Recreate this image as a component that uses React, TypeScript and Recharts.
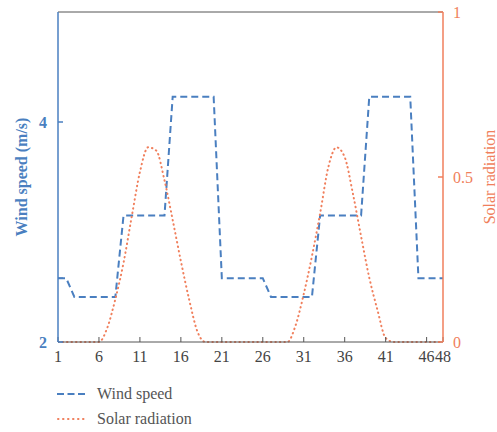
import React from 'react';
import { LineChart, Line, XAxis, YAxis } from 'recharts';

// hours 1..48
const hours = [
  1, 2, 3, 4, 5, 6, 7, 8, 9, 10, 11, 12, 13, 14, 15, 16, 17, 18, 19, 20, 21, 22, 23, 24,
  25, 26, 27, 28, 29, 30, 31, 32, 33, 34, 35, 36, 37, 38, 39, 40, 41, 42, 43, 44, 45, 46, 47, 48,
];

// wind speed (m/s)
const windSpeed = [
  2.58, 2.58, 2.41, 2.41, 2.41, 2.41, 2.41, 2.41, 3.15, 3.15, 3.15, 3.15, 3.15, 3.15, 4.23, 4.23,
  4.23, 4.23, 4.23, 4.23, 2.58, 2.58, 2.58, 2.58, 2.58, 2.58, 2.41, 2.41, 2.41, 2.41, 2.41, 2.41,
  3.15, 3.15, 3.15, 3.15, 3.15, 3.15, 4.23, 4.23, 4.23, 4.23, 4.23, 4.23, 2.58, 2.58, 2.58, 2.58,
];

// solar radiation (normalised)
const solarRadiation = [
  0, 0, 0, 0, 0, 0, 0.042, 0.13, 0.24, 0.38, 0.515, 0.59, 0.58, 0.49, 0.37, 0.245,
  0.13, 0.033, 0, 0, 0, 0, 0, 0, 0, 0, 0, 0, 0, 0.05, 0.145, 0.26,
  0.39, 0.53, 0.59, 0.56, 0.45, 0.32, 0.195, 0.097, 0.012, 0, 0, 0, 0, 0, 0, 0,
];

const xTicks = [1, 6, 11, 16, 21, 26, 31, 36, 41, 46, 48];
const windTicks = [2, 2.58, 4];
const windTickLabels = ['2', '', '4'];
const solarTicks = [0, 0.5, 1];

const data = hours.map((h, i) => ({ hour: h, wind: windSpeed[i], solar: solarRadiation[i] }));

const BLUE = '#4a7fc0';
const ORANGE = '#f07f5c';
const GRAY = '#555555';
const FONT = "'Liberation Serif', 'Times New Roman', Times, serif";

export default function App() {
  return (
    <div style={{ position: 'absolute', left: 0, top: 0, width: 497, height: 432, background: '#fff', fontFamily: FONT }}>
      <LineChart width={497} height={432} data={data} margin={{ top: 11, right: 0, bottom: 60, left: 0 }} style={{ fontFamily: FONT }}>
        <XAxis
          xAxisId="bottom"
          dataKey="hour"
          type="number"
          domain={[1, 48]}
          ticks={xTicks}
          interval={0}
          height={30}
          stroke={GRAY}
          tickSize={-5}
          tickMargin={14}
          tick={{ fill: '#444', fontSize: 16, fontFamily: FONT }}
          allowDataOverflow
        />
        <XAxis
          xAxisId="top"
          dataKey="hour"
          orientation="top"
          type="number"
          domain={[1, 48]}
          ticks={xTicks}
          height={1}
          stroke={GRAY}
          tickSize={-5}
          tick={false}
        />
        <YAxis
          yAxisId="wind"
          orientation="left"
          domain={[2, 5]}
          ticks={windTicks}
          tickFormatter={(v: number) => windTickLabels[windTicks.indexOf(v)] ?? ''}
          width={58}
          stroke={BLUE}
          strokeWidth={1.5}
          tickSize={-5}
          tickMargin={16}
          tick={{ fill: BLUE, fontSize: 16, fontFamily: FONT, fontWeight: 'bold' }}
          label={{ value: 'Wind speed (m/s)', angle: -90, position: 'center', dx: -8, fill: BLUE, fontSize: 16, fontFamily: FONT, fontWeight: 'bold' }}
        />
        <YAxis
          yAxisId="windMirror"
          orientation="right"
          domain={[2, 5]}
          ticks={windTicks}
          width={0}
          axisLine={false}
          tickLine={{ stroke: BLUE }}
          tickSize={-5}
          tick={false}
        />
        <YAxis
          yAxisId="solar"
          orientation="right"
          domain={[0, 1]}
          ticks={solarTicks}
          width={54}
          stroke={ORANGE}
          strokeWidth={1.5}
          tickSize={-5}
          tickMargin={15}
          tick={{ fill: ORANGE, fontSize: 16, fontFamily: FONT }}
          label={{ value: 'Solar radiation', angle: -90, position: 'center', dx: 19, fill: ORANGE, fontSize: 16, fontFamily: FONT }}
        />
        <Line
          xAxisId="bottom"
          yAxisId="wind"
          type="linear"
          dataKey="wind"
          stroke={BLUE}
          strokeWidth={2}
          strokeDasharray="7 4"
          dot={false}
          isAnimationActive={false}
        />
        <Line
          xAxisId="bottom"
          yAxisId="solar"
          type="monotone"
          dataKey="solar"
          stroke={ORANGE}
          strokeWidth={2}
          strokeLinecap="round"
          strokeDasharray="0.5 4"
          dot={false}
          isAnimationActive={false}
        />
      </LineChart>
      {/* legend */}
      <div style={{ position: 'absolute', left: 57, top: 381, fontSize: 16, color: GRAY, fontFamily: FONT }}>
        <div style={{ display: 'flex', alignItems: 'center', height: 25 }}>
          <svg width={28} height={6}>
            <line x1={0} y1={3} x2={28} y2={3} stroke={BLUE} strokeWidth={2} strokeDasharray="7 3.5" />
          </svg>
          <span style={{ marginLeft: 12 }}>Wind speed</span>
        </div>
        <div style={{ display: 'flex', alignItems: 'center', height: 25 }}>
          <svg width={28} height={6}>
            <line x1={1} y1={3} x2={28} y2={3} stroke={ORANGE} strokeWidth={2} strokeLinecap="round" strokeDasharray="0.5 4.5" />
          </svg>
          <span style={{ marginLeft: 12 }}>Solar radiation</span>
        </div>
      </div>
    </div>
  );
}
